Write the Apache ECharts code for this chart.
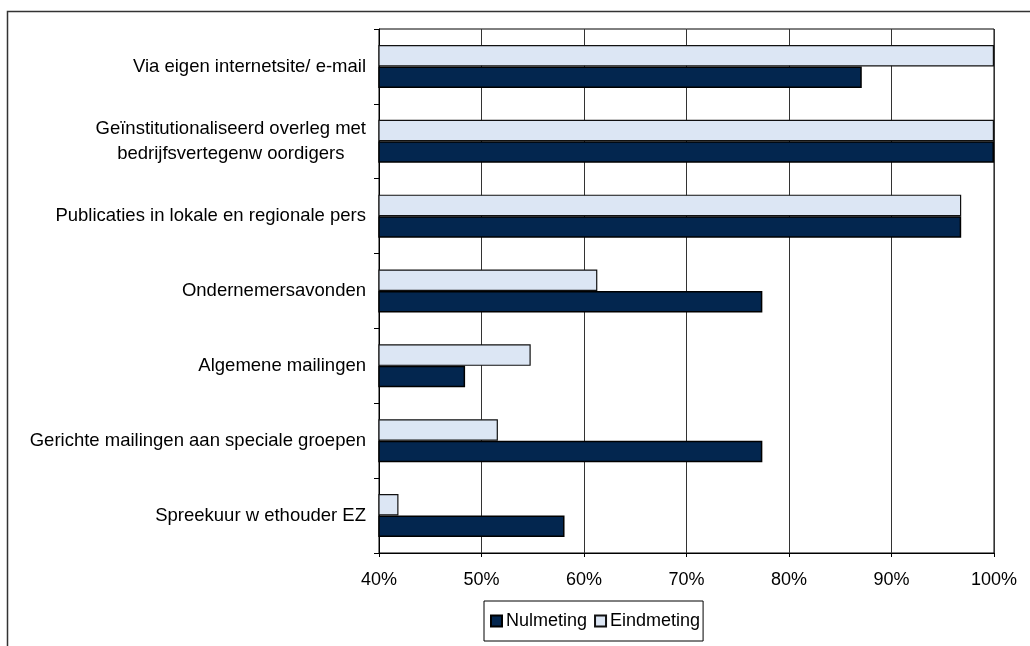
<!DOCTYPE html>
<html>
<head>
<meta charset="utf-8">
<script src="https://cdn.jsdelivr.net/npm/echarts@6/dist/echarts.min.js"></script>
<style>
  html, body { margin: 0; padding: 0; background: #fff; }
  #chart { width: 1030px; height: 646px; }
</style>
</head>
<body>
<div id="chart"></div>
<script>
const categories = [
  "Via eigen internetsite/ e-mail",
  "Geïnstitutionaliseerd overleg met\nbedrijfsvertegenw oordigers",
  "Publicaties in lokale en regionale pers",
  "Ondernemersavonden",
  "Algemene mailingen",
  "Gerichte mailingen aan speciale groepen",
  "Spreekuur w ethouder EZ"
];
const nulmeting = [87.1, 100, 96.8, 77.4, 48.4, 77.4, 58.1];
const eindmeting = [100, 100, 96.8, 61.3, 54.8, 51.6, 41.9];
const tickLabels = ["40%", "50%", "60%", "70%", "80%", "90%", "100%"];

const font = "'Liberation Sans', Arial, sans-serif";
const chart = echarts.init(document.getElementById("chart"));

chart.setOption({
  animation: false,
  backgroundColor: "#fff",
  textStyle: { fontFamily: font, color: "#000" },
  // outer chart frame, cut off at the right and bottom like the original
  graphic: [{
    type: "rect",
    shape: { x: 7.5, y: 11.5, width: 1100, height: 1000 },
    style: { fill: "none", stroke: "#333", lineWidth: 1.5 },
    silent: true
  }],
  grid: {
    left: 379, top: 29, width: 615, height: 524,
    show: true, borderColor: "#000", borderWidth: 1
  },
  legend: {
    left: 484, top: 601,
    data: ["Nulmeting", "Eindmeting"],
    orient: "horizontal",
    borderColor: "#000", borderWidth: 1,
    padding: [11, 3, 11, 6],
    itemWidth: 11, itemHeight: 11, itemGap: 7,
    icon: "rect",
    textStyle: { fontFamily: font, fontSize: 18, color: "#000", padding: [0, 0, 0, -1] }
  },
  xAxis: {
    type: "value",
    min: 40, max: 100, interval: 10,
    axisLine: { show: true, lineStyle: { color: "#000", width: 1 } },
    axisTick: { show: true, length: 4, lineStyle: { color: "#000" } },
    splitLine: { show: true, lineStyle: { color: "#333", width: 1 } },
    axisLabel: {
      margin: 18, fontSize: 18, color: "#000", fontFamily: font,
      formatter: v => tickLabels[Math.round((v - 40) / 10)]
    }
  },
  yAxis: {
    type: "category",
    data: categories,
    inverse: true,
    axisLine: { show: true, lineStyle: { color: "#000", width: 1 } },
    axisTick: { show: true, length: 5, lineStyle: { color: "#000" } },
    axisLabel: {
      margin: 13, align: "right", color: "#000", fontFamily: font, fontSize: 18.5,
      // two-line label: lines centred on each other, block right-aligned
      formatter: v => v.split("\n").map(l => "{c|" + l + "}").join("\n"),
      rich: { c: { align: "center", fontSize: 18.5, fontFamily: font, color: "#000", lineHeight: 25 } }
    }
  },
  series: [
    {
      name: "Eindmeting", type: "bar", data: eindmeting,
      barWidth: 21.5, barGap: 0,
      itemStyle: { color: "#dce6f4", borderColor: "#111", borderWidth: 1.2 }
    },
    {
      name: "Nulmeting", type: "bar", data: nulmeting,
      barWidth: 21.5, barGap: 0,
      itemStyle: { color: "#03264f", borderColor: "#000", borderWidth: 1.5 }
    }
  ]
});
</script>
</body>
</html>
